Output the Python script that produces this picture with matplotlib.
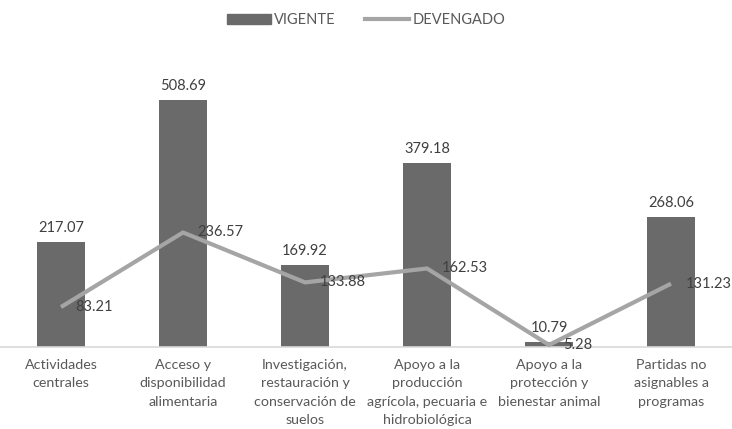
import numpy as np
import matplotlib
matplotlib.use("Agg")
from matplotlib import pyplot as plt
from matplotlib.lines import Line2D
from matplotlib.patches import Patch

categorias = ["Actividades\ncentrales",
              "Acceso y\ndisponibilidad\nalimentaria",
              "Investigación,\nrestauración y\nconservación de\nsuelos",
              "Apoyo a la\nproducción\nagrícola, pecuaria e\nhidrobiológica",
              "Apoyo a la\nprotección y\nbienestar animal",
              "Partidas no\nasignables a\nprogramas"]
vigente = [217.07, 508.69, 169.92, 379.18, 10.79, 268.06]
devengado = [83.21, 236.57, 133.88, 162.53, 5.28, 131.23]

plt.rcParams['font.family'] = ['Lato', 'DejaVu Sans']
col_barra = '#6a6a6a'
col_linea = '#a5a5a5'
col_texto = '#404040'

fig = plt.figure(figsize=(7.32, 4.29), dpi=100)
ax = fig.add_axes([0.0, 0.19, 1.0, 0.68])

x = np.arange(len(categorias))
ax.bar(x, vigente, width=0.39, color=col_barra, zorder=2)
ax.plot(x, devengado, color=col_linea, lw=3, zorder=3, solid_capstyle='butt')

for xi, v in zip(x, vigente):
    ax.annotate(f"{v:.2f}", (xi, v), xytext=(0, 5), textcoords='offset points',
                ha='center', va='bottom', fontsize=10.5, color=col_texto)
for xi, v in zip(x, devengado):
    ax.annotate(f"{v:.2f}", (xi, v), xytext=(10.5, 0), textcoords='offset points',
                ha='left', va='center', fontsize=10.5, color=col_texto, zorder=4)

ax.set_xlim(-0.5, len(categorias) - 0.5)
ax.set_ylim(0, 600)
ax.set_yticks([])
ax.set_xticks(x)
ax.set_xticklabels(categorias, fontsize=10.3, color='#595959', linespacing=1.65)
ax.tick_params(axis='x', length=0, pad=8)
for s in ['top', 'right', 'left']:
    ax.spines[s].set_visible(False)
ax.spines['bottom'].set_color('#d9d9d9')
ax.spines['bottom'].set_linewidth(1.2)

handles = [Patch(color=col_barra), Line2D([], [], color=col_linea, lw=3)]
fig.legend(handles, ["VIGENTE", "DEVENGADO"], loc='upper center',
           bbox_to_anchor=(0.5, 1.0), ncol=2, frameon=False, fontsize=10.5,
           labelcolor='#595959', handlelength=3.0, handletextpad=0.25,
           columnspacing=2.0)

fig.savefig("out.png", dpi=100)
